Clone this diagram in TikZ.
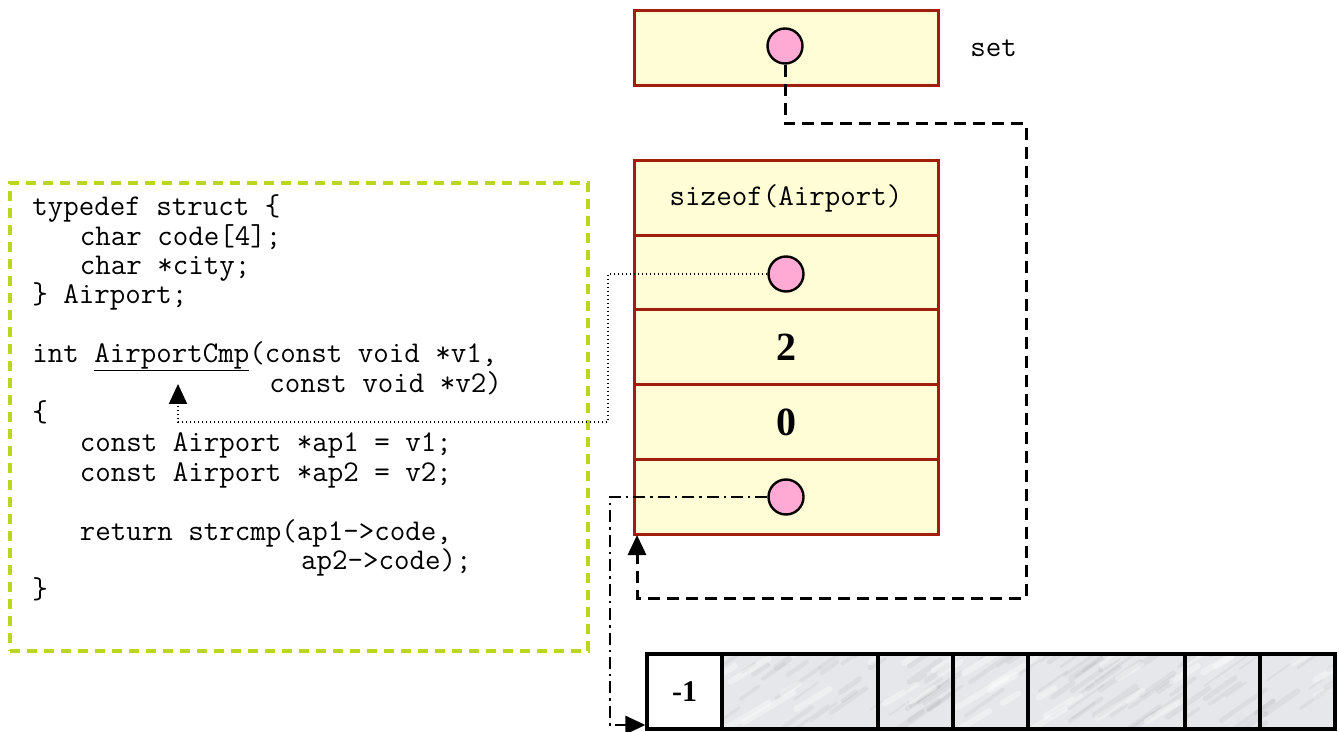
\documentclass[tikz,border=0pt]{standalone}
\usepackage{fontspec}
\setmainfont{Liberation Serif}
\usetikzlibrary{arrows.meta}
\definecolor{cellfill}{RGB}{255,253,213}
\definecolor{cellline}{RGB}{160,30,10}
\definecolor{ptrfill}{RGB}{255,170,212}
\definecolor{boxgreen}{RGB}{187,214,30}
\definecolor{marble}{RGB}{230,231,235}
\newcommand{\codefont}{\ttfamily\fontsize{15.05}{17}\selectfont}
\newcommand{\myul}[1]{\vtop{\hbox{#1}\kern0.2pt\hrule height 0.7pt}}
\begin{document}
\begin{tikzpicture}[x=0.5pt,y=-0.5pt,
  cell/.style={draw=cellline, line width=1.5pt, fill=cellfill, minimum width=152pt, minimum height=37.5pt, inner sep=0pt},
  ptr/.style={circle, draw=black, line width=1.2pt, fill=ptrfill, minimum size=17.5pt, inner sep=0pt},
  code/.style={anchor=base west, inner sep=0pt, font=\codefont},
  arrcell/.style={draw=black, line width=1.6pt, minimum height=37.5pt, inner sep=0pt},
  tip/.style={-{Triangle[length=10pt,width=9pt]}},
  dotline/.style={line width=1pt, dash pattern=on 0.8pt off 1.2pt},
  dashline/.style={line width=1.5pt, dash pattern=on 6pt off 3.5pt},
  dotdash/.style={line width=1.4pt, dash pattern=on 6pt off 2.5pt on 1.2pt off 2.5pt},
  bignum/.style={font=\bfseries\fontsize{20}{24}\selectfont}
]
\useasboundingbox (0,0) rectangle (1339,732);

% code box
\node[draw=boxgreen, line width=1.6pt, dash pattern=on 5pt off 3.5pt, minimum width=289pt, minimum height=234pt, inner sep=0pt] (codebox) at (299,417) {};
\node[code] (l1) at (32,216) {typedef struct \{};
\node[code] (l2) at (79.4,245.5) {char code[4];};
\node[code] (l3) at (79.4,275) {char *city;};
\node[code] (l4) at (32,304) {\} Airport;};
\node[code] (l5) at (32,363) {int \myul{AirportCmp}(const void *v1,};
\node[code] (l6) at (269,392.5) {const void *v2)};
\node[code] (l7) at (32,422) {\{};
\node[code] (l8) at (79.4,451.5) {const Airport *ap1 = v1;};
\node[code] (l9) at (79.4,481) {const Airport *ap2 = v2;};
\node[code] (l10) at (79.4,540) {return strcmp(ap1->code,};
\node[code] (l11) at (300.6,569.5) {ap2->code);};
\node[code] (l12) at (32,598.5) {\}};

% set
\node[cell] (setbox) at (786,48.5) {};
\node[ptr] (setptr) at (785,46) {};
\node[code] (setlbl) at (970,57) {set};

% stack record
\node[cell, font=\codefont] (szcell) at (786,198.5) {sizeof(Airport)};
\node[cell] (cmpcell) at (786,273) {};
\node[ptr] (cmpptr) at (786,274) {};
\node[cell, bignum] (cnt) at (786,347.5) {2};
\node[cell, bignum] (alloc) at (786,422.5) {0};
\node[cell] (elmcell) at (786,497.5) {};
\node[ptr] (elmptr) at (786,497) {};

% array
\fill[marble] (722,654) rectangle (1335,729);
\begin{scope}
\clip (722,654) rectangle (1335,729);
\pgfmathsetseed{11}
\foreach \i in {1,...,110} {
  \pgfmathsetmacro\xa{715+rnd*630}
  \pgfmathsetmacro\ya{650+rnd*85}
  \pgfmathsetmacro\ln{12+rnd*35}
  \pgfmathsetmacro\lw{0.8+rnd*2.5}
  \draw[black!55, opacity=0.08, line width=\lw pt, line cap=round] (\xa,\ya) -- ++(\ln,-0.7*\ln);
}
\foreach \i in {1,...,40} {
  \pgfmathsetmacro\xa{715+rnd*630}
  \pgfmathsetmacro\ya{650+rnd*85}
  \pgfmathsetmacro\ln{15+rnd*35}
  \draw[white, opacity=0.35, line width=3pt, line cap=round] (\xa,\ya) -- ++(\ln,-0.6*\ln);
}
\end{scope}
\node[arrcell, fill=white, minimum width=37.5pt, font=\bfseries\fontsize{15}{18}\selectfont] (a0) at (684.5,691.5) {-1};
\node[arrcell, minimum width=78pt] (a1) at (800,691.5) {};
\node[arrcell, minimum width=37.5pt] (a2) at (915.5,691.5) {};
\node[arrcell, minimum width=37.5pt] (a3) at (990.5,691.5) {};
\node[arrcell, minimum width=78.5pt] (a4) at (1106.5,691.5) {};
\node[arrcell, minimum width=37.5pt] (a5) at (1222.5,691.5) {};
\node[arrcell, minimum width=37.5pt] (a6) at (1297.5,691.5) {};

% connectors
\coordinate (fnref) at (178,384);
\coordinate (c1) at (608,422);
\draw[dotline, tip] (cmpptr.west) -| (c1) -| (fnref);

\coordinate (d1) at (1026,124);
\coordinate (d2) at (637,598);
\coordinate (stk) at (637,535);
\draw[dashline, tip] (setptr.south) |- (d1) |- (d2) -- (stk);

\coordinate (e1) at (610,725);
\draw[dotdash, tip] (elmptr.west) -| (e1) -- (a0.west |- e1);
\end{tikzpicture}
\end{document}
